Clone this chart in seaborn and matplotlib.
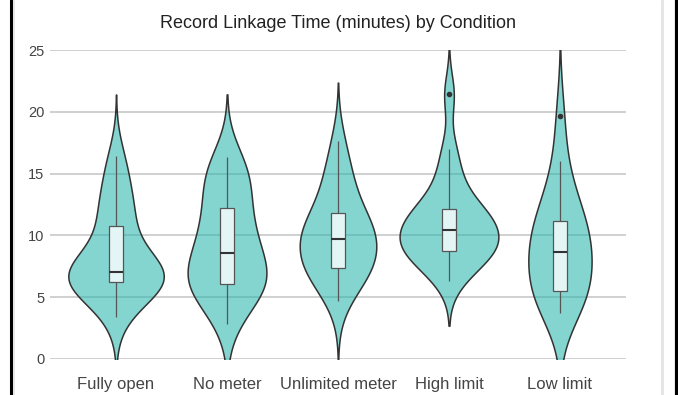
import numpy as np
import pandas as pd
import seaborn as sns
import matplotlib.pyplot as plt
from matplotlib.colors import to_rgba
from matplotlib.lines import Line2D

# record linkage time (minutes), estimated samples per condition
conditions = ["Fully open", "No meter", "Unlimited meter", "High limit", "Low limit"]

fully_open = [3.43, 4.9, 5.5, 5.9, 6.2, 6.28, 6.5, 6.7, 6.9, 7.0,
              7.14, 7.6, 8.2, 9.3, 10.6, 11.4, 12.3, 13.4, 14.8, 16.4]
no_meter = [2.8, 4.5, 5.3, 5.7, 6.0, 6.1, 6.6, 7.1, 7.6, 8.2,
            8.96, 9.6, 10.4, 11.1, 11.9, 13.26, 13.9, 14.8, 15.5, 16.37]
unlimited_meter = [4.69, 6.2, 6.8, 7.1, 7.3, 7.34, 8.2, 8.9, 9.4, 9.6,
                   9.76, 10.2, 10.7, 11.2, 11.6, 12.32, 13.6, 14.6, 15.6, 17.64]
high_limit = [6.34, 7.3, 8.0, 8.4, 8.7, 8.8, 9.2, 9.6, 9.9, 10.2,
              10.68, 11.0, 11.4, 11.8, 12.0, 12.56, 13.8, 15.1, 16.96, 21.4]
low_limit = [3.75, 4.4, 4.9, 5.2, 5.45, 5.56, 6.8, 7.6, 8.0, 8.4,
             8.86, 9.7, 10.3, 10.7, 11.0, 11.64, 12.8, 14.0, 16.05, 19.7]

samples = [fully_open, no_meter, unlimited_meter, high_limit, low_limit]

# kde bandwidth (minutes), tail length in bandwidths, violin width
bandwidth = [1.9, 2.1, 2.0, 1.6, 2.6]
cuts = [2.63, 2.4, 2.36, 2.28, 2.1]
widths = [0.86, 0.71, 0.69, 0.89, 0.57]

df = pd.DataFrame({
    "Condition": np.repeat(conditions, [len(s) for s in samples]),
    "Minutes": np.concatenate(samples),
})

sns.set_theme(style="white")
plt.rcParams["font.family"] = ["Liberation Sans", "DejaVu Sans"]

fig = plt.figure(figsize=(6.78, 3.95), dpi=100)
ax = fig.add_axes([50 / 678, 1 - 359 / 395, 576 / 678, 309 / 395])

for name, vals, bw, cut, w in zip(conditions, samples, bandwidth, cuts, widths):
    factor = bw / np.std(vals, ddof=1)
    sns.violinplot(x=[name] * len(vals), y=vals, order=conditions, ax=ax,
                   bw_method=factor, cut=cut, width=w, gridsize=300,
                   inner=None, color="#20b2aa", saturation=1,
                   linecolor="#333333", linewidth=1.1)

for coll in ax.collections:
    coll.set_facecolor(to_rgba("#20b2aa", 0.55))

sns.boxplot(data=df, x="Condition", y="Minutes", order=conditions, ax=ax,
            width=0.126, whis=1.5, color="#e4f5f5", saturation=1,
            linecolor="#555555", linewidth=0.9, showcaps=False,
            fliersize=3,
            flierprops=dict(marker="o", markerfacecolor="#333333",
                            markeredgecolor="#333333"),
            medianprops=dict(color="#333333", linewidth=1.5))

ax.set_xlim(-0.595, 4.595)
ax.set_ylim(0, 25)
ax.set_yticks([0, 5, 10, 15, 20, 25])
ax.yaxis.grid(True, color="#c8c8c8", linewidth=1.2)
ax.set_axisbelow(True)
sns.despine(ax=ax, left=True, bottom=True)
ax.set_xlabel("")
ax.set_ylabel("")
ax.tick_params(axis="y", length=0, pad=4, labelsize=10.5, labelcolor="#444444")
ax.tick_params(axis="x", length=0, pad=13, labelsize=12, labelcolor="#444444")
ax.set_title("Record Linkage Time (minutes) by Condition", fontsize=13,
             color="#222222", pad=16)

# card edges
for x, c, lw in [(11 / 678, "black", 2.2), (14 / 678, "#e4e4e4", 1.2),
                 (662 / 678, "#e4e4e4", 2), (677 / 678, "black", 3)]:
    fig.add_artist(Line2D([x, x], [0, 1], transform=fig.transFigure,
                          color=c, linewidth=lw))

fig.savefig("out.png", dpi=100)
